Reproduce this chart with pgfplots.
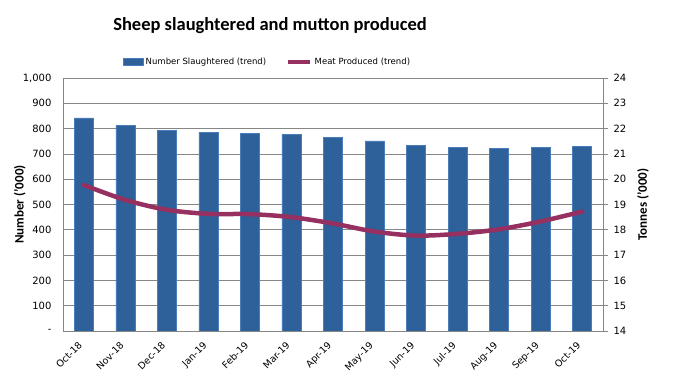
\documentclass[border=0pt]{standalone}
\usepackage{pgfplots}
\pgfplotsset{compat=1.18}
\usepackage{fontspec}
\setmainfont{Carlito}
\newfontfamily\tickfont{DejaVu Sans}
\definecolor{barfill}{RGB}{46,96,153}
\definecolor{baredge}{RGB}{74,126,187}
\definecolor{linec}{RGB}{150,48,96}
\definecolor{gridc}{RGB}{134,134,134}
\pgfplotsset{
  barleg/.style={legend image code/.code={\draw[##1] (0pt,-3.5pt) rectangle (20pt,3.5pt);}},
  lineleg/.style={legend image code/.code={\draw[##1] (0pt,0pt) -- (22pt,0pt);}},
}
\begin{document}
\begin{tikzpicture}[x=1pt,y=1pt]
\useasboundingbox (-63,-54) rectangle (611,331);
\node[font=\bfseries\fontsize{18.5}{22}\selectfont] at (207,305) {Sheep slaughtered and mutton produced};
\begin{axis}[
  at={(0,0)}, anchor=south west,
  width=540pt, height=253pt, scale only axis,
  xmin=-0.5, xmax=12.5, ymin=0, ymax=1000,
  xtick={0,1,2,3,4,5,6,7,8,9,10,11,12},
  xticklabels={Oct-18,Nov-18,Dec-18,Jan-19,Feb-19,Mar-19,Apr-19,May-19,Jun-19,Jul-19,Aug-19,Sep-19,Oct-19},
  ytick={0,100,200,300,400,500,600,700,800,900,1000},
  yticklabels={-,100,200,300,400,500,600,700,800,900,{1,000}},
  major tick length=0pt,
  axis line style={gridc},
  ymajorgrids, grid style={gridc, line width=0.6pt},
  xticklabel style={font=\tickfont\fontsize{9.5}{10}\selectfont, inner sep=0pt, xshift=-6pt, yshift=-10pt, rotate=45, anchor=north east},
  yticklabel style={font=\tickfont\fontsize{10}{12}\selectfont, xshift=-8pt},
  ylabel={Number ('000)},
  every axis y label/.style={at={(axis description cs:-0.08,0.5)}, rotate=90, anchor=center, font=\bfseries\fontsize{13}{15}\selectfont},
  legend style={at={(axis description cs:0.111,1.063)}, anchor=west, draw=none, fill=none,
     font=\tickfont\fontsize{8.5}{10}\selectfont, legend columns=2,
     /tikz/every even column/.append style={column sep=18pt}, inner sep=0pt},
]
\addplot[ybar, bar width=19pt, fill=barfill, draw=baredge, line width=0.6pt, barleg]
  coordinates {(0,842) (1,813) (2,794) (3,786) (4,782) (5,778) (6,766) (7,751) (8,733) (9,727) (10,723) (11,727) (12,731)};
\addlegendentry{Number Slaughtered (trend)}
\addlegendimage{linec, line width=4.5pt, lineleg}
\addlegendentry{Meat Produced (trend)}
\end{axis}
\begin{axis}[
  at={(0,0)}, anchor=south west,
  width=540pt, height=253pt, scale only axis,
  xmin=-0.5, xmax=12.5, ymin=14, ymax=24,
  axis x line=none, axis y line*=right,
  axis line style={gridc},
  ytick={14,15,16,17,18,19,20,21,22,23,24},
  yticklabels={14,15,16,17,18,19,20,21,22,23,24},
  ytick style={gridc, line width=0.6pt}, major tick length=5pt, tick align=outside,
  yticklabel style={font=\tickfont\fontsize{10}{12}\selectfont, xshift=2pt},
  ylabel={Tonnes ('000)},
  every axis y label/.style={at={(axis description cs:1.074,0.5)}, rotate=90, anchor=center, font=\bfseries\fontsize{13}{15}\selectfont},
]
\addplot[linec, line width=4.5pt, smooth, line cap=round]
  coordinates {(0,19.77) (1,19.18) (2,18.79) (3,18.63) (4,18.62) (5,18.50) (6,18.25) (7,17.93) (8,17.77) (9,17.84) (10,18.02) (11,18.33) (12,18.72)};
\end{axis}
\end{tikzpicture}
\end{document}
